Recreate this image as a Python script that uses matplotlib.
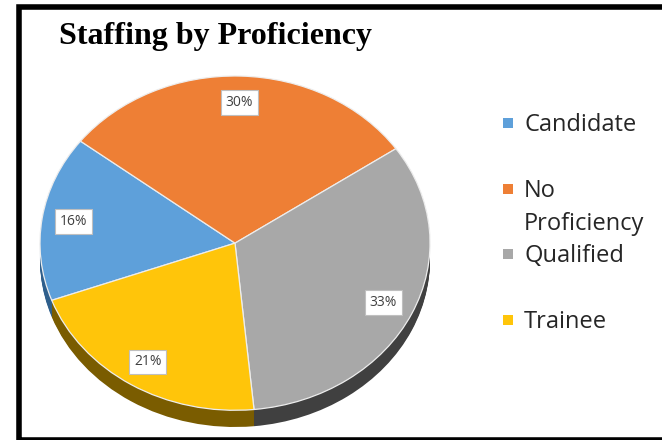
import numpy as np
import matplotlib.pyplot as plt
from matplotlib.patches import Rectangle

# data
categories = ["Candidate", "No Proficiency", "Qualified", "Trainee"]
legend_labels = ["Candidate", "No\nProficiency", "Qualified", "Trainee"]
shares = [16, 30, 33, 21]

top_colors = ["#5EA0DA", "#EE7F35", "#A8A8A8", "#FFC50A"]
side_colors = ["#2F5F8C", "#8A4516", "#404040", "#7A5C00"]

W, H = 662, 440
fig = plt.figure(figsize=(W / 100, H / 100), dpi=100)

# outer frame (right edge falls outside the image, as in the reference)
fig.patches.append(Rectangle((19 / W, 0), 2, 1 - 7 / H, transform=fig.transFigure,
                             fill=False, edgecolor="black", linewidth=4, zorder=0))

# title
fig.text(59 / W, 1 - 44 / H, "Staffing by Proficiency", family="Liberation Serif",
         fontweight="bold", fontsize=23, va="baseline", ha="left")

# pie axes: top face ellipse spans x 40..430, y 76..410, side goes down to 427
depth = 0.10
ax = fig.add_axes([40 / W, (H - 427) / H, 390 / W, (427 - 76) / H])
start = 200

# side of the 3D pie: stacked darker pies shifted down
for d in np.linspace(depth, 0.004, 16):
    ax.pie(shares, colors=side_colors, startangle=start, counterclock=False,
           center=(0, -d), radius=1, wedgeprops=dict(linewidth=0))

wedges, _, pct_texts = ax.pie(shares, colors=top_colors, startangle=start,
                              counterclock=False, autopct="%d%%", pctdistance=0.84,
                              wedgeprops=dict(linewidth=0.9, edgecolor="#EDEDED"))
for t in pct_texts:
    t.set_family("Open Sans")
    t.set_fontsize(10)
    t.set_color("#404040")
    t.set_bbox(dict(boxstyle="square,pad=0.35", facecolor="white",
                    edgecolor="#BFBFBF", linewidth=0.8))

ax.set_aspect("auto")
ax.set_xlim(-1, 1)
ax.set_ylim(-1 - depth, 1)
ax.axis("off")

# legend drawn by hand to keep Excel-like spacing
base_y = 131
step = 65.7
line_gap = 33
for i, (lab, col) in enumerate(zip(legend_labels, top_colors)):
    y = base_y + i * step
    fig.patches.append(Rectangle((503 / W, 1 - (y - 3) / H), 10 / W, 10 / H,
                                 transform=fig.transFigure, facecolor=col,
                                 edgecolor="none"))
    # baseline alignment uses the last line, so push multi-line labels down
    n_extra = lab.count("\n")
    fig.text(524 / W, 1 - (y + n_extra * line_gap) / H, lab, family="Open Sans",
             fontsize=17, color="#262626", va="baseline", ha="left",
             linespacing=1.5)

fig.savefig("out.png", dpi=100)
